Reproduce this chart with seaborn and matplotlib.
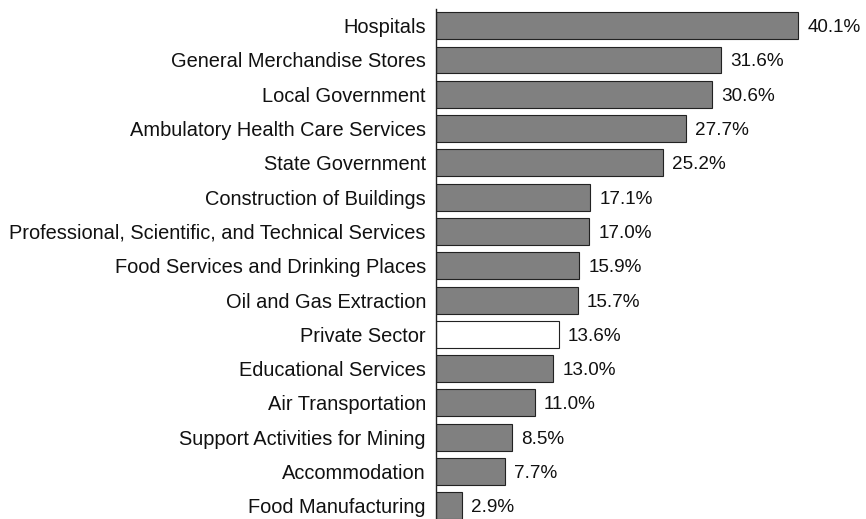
import matplotlib
matplotlib.use('Agg')
import matplotlib.pyplot as plt
import seaborn as sns
import pandas as pd

categories = [
    'Hospitals', 'General Merchandise Stores', 'Local Government',
    'Ambulatory Health Care Services', 'State Government',
    'Construction of Buildings',
    'Professional, Scientific, and Technical Services',
    'Food Services and Drinking Places', 'Oil and Gas Extraction',
    'Private Sector', 'Educational Services', 'Air Transportation',
    'Support Activities for Mining', 'Accommodation', 'Food Manufacturing',
]
values = [40.1, 31.6, 30.6, 27.7, 25.2, 17.1, 17.0, 15.9, 15.7,
          13.6, 13.0, 11.0, 8.5, 7.7, 2.9]
highlight = 'Private Sector'

df = pd.DataFrame({'category': categories, 'value': values})
palette = {c: ('white' if c == highlight else '#808080') for c in categories}

sns.set_style('white')
plt.rcParams['font.family'] = ['Liberation Sans', 'DejaVu Sans']

fig = plt.figure(figsize=(8.66, 5.19), dpi=100)
ax = fig.add_axes([0.503, -0.0075, 0.497, 0.991])

sns.barplot(data=df, x='value', y='category', hue='category', palette=palette,
            order=categories, legend=False, width=0.787,
            edgecolor='#222222', linewidth=0.8, ax=ax)

for p, v in zip(ax.patches, values):
    ax.text(p.get_width() + 1.0, p.get_y() + p.get_height() / 2, f'{v:.1f}%',
            va='center_baseline', ha='left', fontsize=13.6, color='#111111')

ax.set_xlim(0, 47.6)
ax.set_ylim(14.5, -0.5)
ax.set_xlabel('')
ax.set_ylabel('')
ax.set_xticks([])
ax.tick_params(axis='y', length=0, pad=7, labelsize=14.4, labelcolor='#111111')
for lbl in ax.get_yticklabels():
    lbl.set_verticalalignment('center_baseline')
for side in ['top', 'right', 'bottom']:
    ax.spines[side].set_visible(False)
ax.spines['left'].set_color('#222222')
ax.spines['left'].set_linewidth(1.0)

fig.savefig('out.png', dpi=100)
